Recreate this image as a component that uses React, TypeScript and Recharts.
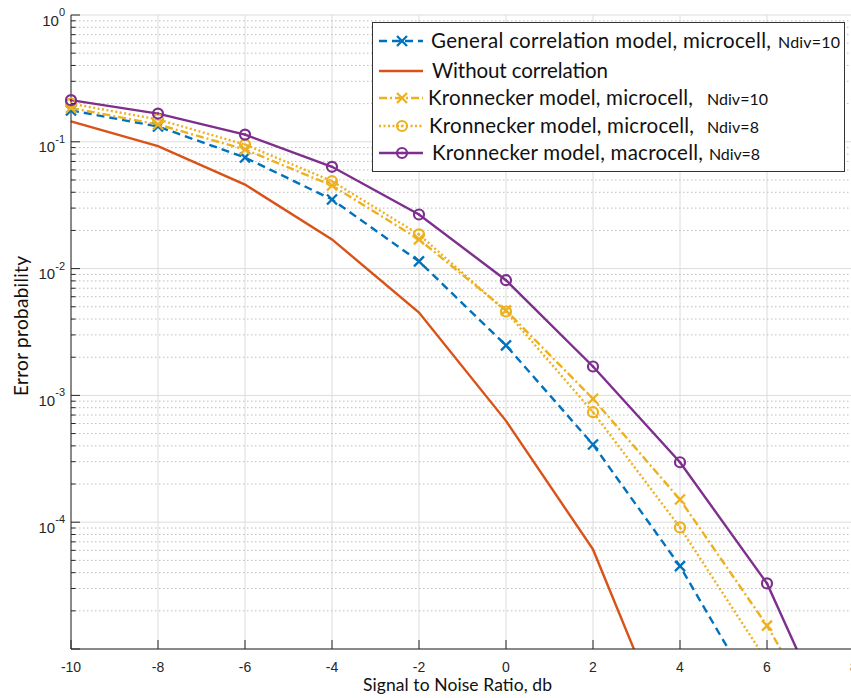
import { CartesianGrid, Legend, Line, LineChart, ReferenceLine, XAxis, YAxis } from "recharts";

// values (error probability vs SNR, dB)
const SNR_DB = [-10, -8, -6, -4, -2, 0, 2, 4, 6, 8];
const GENERAL_MICRO_10 = [0.177, 0.132, 0.0752, 0.0351, 0.0114, 0.00248, 4.1e-4, 4.5e-5, 3e-6, null];
const NO_CORRELATION = [0.145, 0.0923, 0.046, 0.017, 0.0045, 6.3e-4, 6.1e-5, 1.3e-6, null, null];
const KRON_MICRO_10 = [0.185, 0.137, 0.087, 0.0452, 0.017, 0.00468, 9.4e-4, 1.51e-4, 1.53e-5, 1e-6];
const KRON_MICRO_8 = [0.2, 0.15, 0.0952, 0.0489, 0.0186, 0.00459, 7.37e-4, 9.1e-5, 8e-6, null];
const KRON_MACRO_8 = [0.213, 0.167, 0.114, 0.0635, 0.0267, 0.0081, 1.69e-3, 2.97e-4, 3.29e-5, 1e-6];

const X_TICKS = [-10, -8, -6, -4, -2, 0, 2, 4, 6, 8];
const DECADES = [1e-5, 1e-4, 1e-3, 1e-2, 1e-1, 1];
// the bottom decade carries no label in the original
const DECADE_EXP = ["", "-4", "-3", "-2", "-1", "0"];
const MINOR = DECADES.slice(0, -1).flatMap((d) => [2, 3, 4, 5, 6, 7, 8, 9].map((m) => m * d));

const TICK_FONT = "'Liberation Sans', Arial, sans-serif";
const LABEL_FONT = "Lato, 'Open Sans', sans-serif";
const AXIS = "#262626";

type Marker = "x" | "o" | "none";
const SERIES: {
  key: string;
  name: string;
  tag: string;
  color: string;
  dash?: string;
  marker: Marker;
}[] = [
  { key: "general", name: "General correlation model, microcell,", tag: "Ndiv=10", color: "#0072BD", dash: "8 5", marker: "x" },
  { key: "none", name: "Without correlation", tag: "", color: "#D95319", marker: "none" },
  { key: "kmicro10", name: "Kronnecker model, microcell,", tag: "Ndiv=10", color: "#EDB120", dash: "8 3 2 3", marker: "x" },
  { key: "kmicro8", name: "Kronnecker model, microcell,", tag: "Ndiv=8", color: "#EDB120", dash: "2 2.5", marker: "o" },
  { key: "kmacro8", name: "Kronnecker model, macrocell,", tag: "Ndiv=8", color: "#7E2F8E", marker: "o" },
];

const rows = SNR_DB.map((snr, i) => ({
  snr,
  general: GENERAL_MICRO_10[i],
  none: NO_CORRELATION[i],
  kmicro10: KRON_MICRO_10[i],
  kmicro8: KRON_MICRO_8[i],
  kmacro8: KRON_MACRO_8[i],
}));

function markerShape(m: Marker, cx: number, cy: number, color: string) {
  if (m === "x") {
    return (
      <g stroke={color} strokeWidth={2.3}>
        <line x1={cx - 5} y1={cy - 5} x2={cx + 5} y2={cy + 5} />
        <line x1={cx - 5} y1={cy + 5} x2={cx + 5} y2={cy - 5} />
      </g>
    );
  }
  if (m === "o") {
    return (
      <g>
        <circle cx={cx} cy={cy} r={5} fill="none" stroke={color} strokeWidth={2.2} />
        <circle cx={cx} cy={cy} r={1.3} fill={color} />
      </g>
    );
  }
  return null;
}

function BottomTick(props: any) {
  const { x, y, payload } = props;
  return (
    <g>
      <line x1={x} y1={y} x2={x} y2={y - 9} stroke={AXIS} />
      <text x={x} y={y + 23} textAnchor="middle" fontFamily={TICK_FONT} fontSize={14} fill={AXIS}>
        {payload.value}
      </text>
    </g>
  );
}

function TopTick(props: any) {
  const { x, y } = props;
  return <line x1={x} y1={y} x2={x} y2={y + 9} stroke={AXIS} />;
}

function LeftTick(props: any) {
  const { x, y, payload } = props;
  const idx = DECADES.indexOf(payload.value);
  if (idx < 0) return <line x1={x} y1={y} x2={x + 4.5} y2={y} stroke={AXIS} />;
  return (
    <g>
      <line x1={x} y1={y} x2={x + 9} y2={y} stroke={AXIS} />
      {DECADE_EXP[idx] && (
        <text x={x - 6} y={y + 10.5} textAnchor="end" fontFamily={TICK_FONT} fill={AXIS}>
          <tspan fontSize={15}>10</tspan>
          <tspan fontSize={11} dy={-9.5}>
            {DECADE_EXP[idx]}
          </tspan>
        </text>
      )}
    </g>
  );
}

function LegendBox() {
  // row centres inside the box, text starts and widths
  const rowsY = [19, 49, 76, 104, 131];
  const textX = [59, 60, 56, 57, 60];
  const textLen = [340, 176, 265, 265, 271];
  const tagX = [406, 0, 335, 335, 337];
  const tagLen = [62, 0, 61, 52, 51];
  return (
    <svg width={474} height={151} style={{ display: "block" }}>
      <rect x={0.5} y={0.5} width={472} height={149} fill="#fff" stroke="#333" strokeWidth={1} />
      {SERIES.map((s, i) => {
        const cy = rowsY[i];
        return (
          <g key={s.key}>
            <line x1={7} y1={cy} x2={51} y2={cy} stroke={s.color} strokeWidth={2.3} strokeDasharray={s.dash} />
            {markerShape(s.marker, 30, cy, s.color)}
            <text x={textX[i]} y={cy + 7} fontFamily={LABEL_FONT} fontSize={20.5} fill="#111" textLength={textLen[i]}>
              {s.name}
            </text>
            {s.tag && (
              <text x={tagX[i]} y={cy + 7} fontFamily={LABEL_FONT} fontSize={16} fill="#111" textLength={tagLen[i]}>
                {s.tag}
              </text>
            )}
          </g>
        );
      })}
    </svg>
  );
}

export default function App() {
  return (
    <div style={{ position: "absolute", left: 0, top: 0, width: 851, height: 698, overflow: "hidden", background: "#fff" }}>
      <LineChart width={860} height={698} data={rows} margin={{ top: 15, right: 6, bottom: 1, left: 0 }}>
        <CartesianGrid horizontal={false} stroke="#dcdcdc" strokeWidth={1} />
        {MINOR.map((v) => (
          <ReferenceLine key={v} y={v} stroke="#bdbdbd" strokeDasharray="1.5 2.5" strokeWidth={1} />
        ))}
        {DECADES.map((v) => (
          <ReferenceLine key={"d" + v} y={v} stroke="#dcdcdc" strokeWidth={1} />
        ))}
        <XAxis
          dataKey="snr"
          type="number"
          domain={[-10, 8]}
          ticks={X_TICKS}
          height={48}
          tickSize={0}
          tickMargin={0}
          tick={<BottomTick />}
          axisLine={{ stroke: AXIS }}
          label={{
            content: (p: any) => (
              <text
                x={p.viewBox.x + p.viewBox.width / 2 - 5}
                y={p.viewBox.y + 42}
                textAnchor="middle"
                fontFamily={LABEL_FONT}
                fontSize={17.5}
                fill="#111"
                textLength={189}
              >
                Signal to Noise Ratio, db
              </text>
            ),
          }}
        />
        <XAxis
          xAxisId="top"
          orientation="top"
          dataKey="snr"
          type="number"
          domain={[-10, 8]}
          ticks={X_TICKS}
          height={0}
          tickSize={0}
          tickMargin={0}
          tick={<TopTick />}
          axisLine={{ stroke: AXIS }}
        />
        <YAxis
          scale="log"
          type="number"
          domain={[1e-5, 1]}
          allowDataOverflow
          ticks={[...DECADES, ...MINOR]}
          interval={0}
          width={71}
          tickSize={0}
          tickMargin={0}
          tick={<LeftTick />}
          axisLine={{ stroke: AXIS }}
          label={{
            content: (p: any) => {
              const cx = p.viewBox.x + 28;
              const cy = p.viewBox.y + p.viewBox.height / 2 - 6;
              return (
                <text
                  x={cx}
                  y={cy}
                  transform={`rotate(-90 ${cx} ${cy})`}
                  textAnchor="middle"
                  fontFamily={LABEL_FONT}
                  fontSize={19}
                  fill="#111"
                  textLength={140}
                >
                  Error probability
                </text>
              );
            },
          }}
        />
        {SERIES.map((s) => (
          <Line
            key={s.key}
            dataKey={s.key}
            name={s.name}
            type="linear"
            stroke={s.color}
            strokeWidth={2.4}
            strokeDasharray={s.dash}
            isAnimationActive={false}
            activeDot={false}
            dot={(p: any) => {
              if (s.marker === "none" || p.cx == null || p.cy == null || p.value == null) return <g key={p.index} />;
              return <g key={p.index}>{markerShape(s.marker, p.cx, p.cy, s.color)}</g>;
            }}
          />
        ))}
        <Legend
          layout="vertical"
          align="center"
          verticalAlign="middle"
          content={() => <LegendBox />}
          wrapperStyle={{ position: "absolute", left: 372, top: 22, width: 474, height: 151 }}
        />
      </LineChart>
    </div>
  );
}
